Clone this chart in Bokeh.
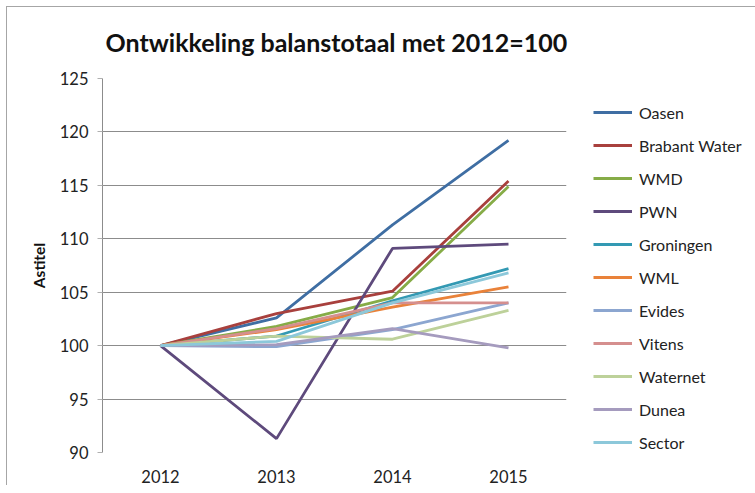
from bokeh.plotting import figure
from bokeh.models import Legend, LegendItem, FactorRange, Range1d
from bokeh.embed import file_html
from bokeh.resources import INLINE

years = ["2012", "2013", "2014", "2015"]

series_names = ["Oasen", "Brabant Water", "WMD", "PWN", "Groningen", "WML",
                "Evides", "Vitens", "Waternet", "Dunea", "Sector"]

oasen = [100, 102.6, 111.3, 119.2]
brabant_water = [100, 103.0, 105.1, 115.4]
wmd = [100, 101.8, 104.5, 114.9]
pwn = [100, 91.3, 109.1, 109.5]
groningen = [100, 100.9, 104.2, 107.2]
wml = [100, 101.5, 103.6, 105.5]
evides = [100, 99.9, 101.5, 104.0]
vitens = [100, 101.6, 104.0, 104.0]
waternet = [100, 100.9, 100.6, 103.3]
dunea = [100, 100.1, 101.6, 99.8]
sector = [100, 100.4, 104.0, 106.8]

values = [oasen, brabant_water, wmd, pwn, groningen, wml,
          evides, vitens, waternet, dunea, sector]

colors = ["#3F6EA3", "#A8403D", "#86AC47", "#5E4A7C", "#3399B3", "#E9823A",
          "#8CA6D0", "#D58F8E", "#BDD19A", "#A59BBE", "#8CC8DA"]

y_ticks = [90, 95, 100, 105, 110, 115, 120, 125]

FONT = "Lato"

p = figure(frame_width=464, frame_height=374, output_backend="svg",
           toolbar_location=None,
           x_range=FactorRange(factors=years, range_padding=0),
           y_range=Range1d(90, 125),
           min_border_left=95, min_border_right=185,
           min_border_top=71, min_border_bottom=32,
           outline_line_color=None, background_fill_color="white",
           border_fill_color="white",
           margin=(6, 0, 0, 6),
           styles={"border-top": "1px solid #a6a6a6",
                   "border-left": "1px solid #a6a6a6"},
           title="Ontwikkeling balanstotaal met 2012=100")

renderers = []
for name, vals, col in zip(series_names, values, colors):
    r = p.line(x=years, y=vals, line_color=col, line_width=2.8)
    renderers.append((name, r))

# title
p.title.text_font = FONT
p.title.text_font_style = "bold"
p.title.text_font_size = "25px"
p.title.text_color = "#111111"
p.title.align = "left"
p.title.vertical_align = "top"
p.title.offset = 3
p.title.standoff = 39

# axes
p.xgrid.grid_line_color = None
p.ygrid.grid_line_color = "#8C8C8C"
p.ygrid.grid_line_width = 1
p.yaxis.ticker = y_ticks
p.yaxis.axis_line_color = "#8C8C8C"
p.yaxis.major_tick_line_color = "#B0B0B0"
p.yaxis.major_tick_out = 5
p.yaxis.major_tick_in = 0
p.yaxis.minor_tick_line_color = None
p.yaxis.major_label_standoff = 9
p.yaxis.major_label_text_font = FONT
p.yaxis.major_label_text_font_size = "16.5px"
p.yaxis.major_label_text_color = "#222222"
p.yaxis.axis_label = "Astitel"
p.yaxis.axis_label_text_font = FONT
p.yaxis.axis_label_text_font_style = "bold"
p.yaxis.axis_label_text_font_size = "15.5px"
p.yaxis.axis_label_text_color = "#111111"
p.yaxis.axis_label_standoff = 9

p.xaxis.axis_line_color = None
p.xaxis.major_tick_line_color = None
p.xaxis.minor_tick_line_color = None
p.xaxis.major_label_standoff = 11
p.xaxis.major_label_text_font = FONT
p.xaxis.major_label_text_font_size = "16.5px"
p.xaxis.major_label_text_color = "#222222"

legend = Legend(items=[LegendItem(label=n, renderers=[r]) for n, r in renderers],
                location=(27, 0), orientation="vertical",
                margin=0, padding=0, spacing=13,
                glyph_width=39, glyph_height=20, label_height=20,
                label_standoff=7, label_text_font=FONT,
                label_text_font_size="16px", label_text_color="#222222",
                border_line_color=None, background_fill_alpha=0)
p.add_layout(legend, "right")

open("out.html", "w").write(file_html(p, INLINE))
